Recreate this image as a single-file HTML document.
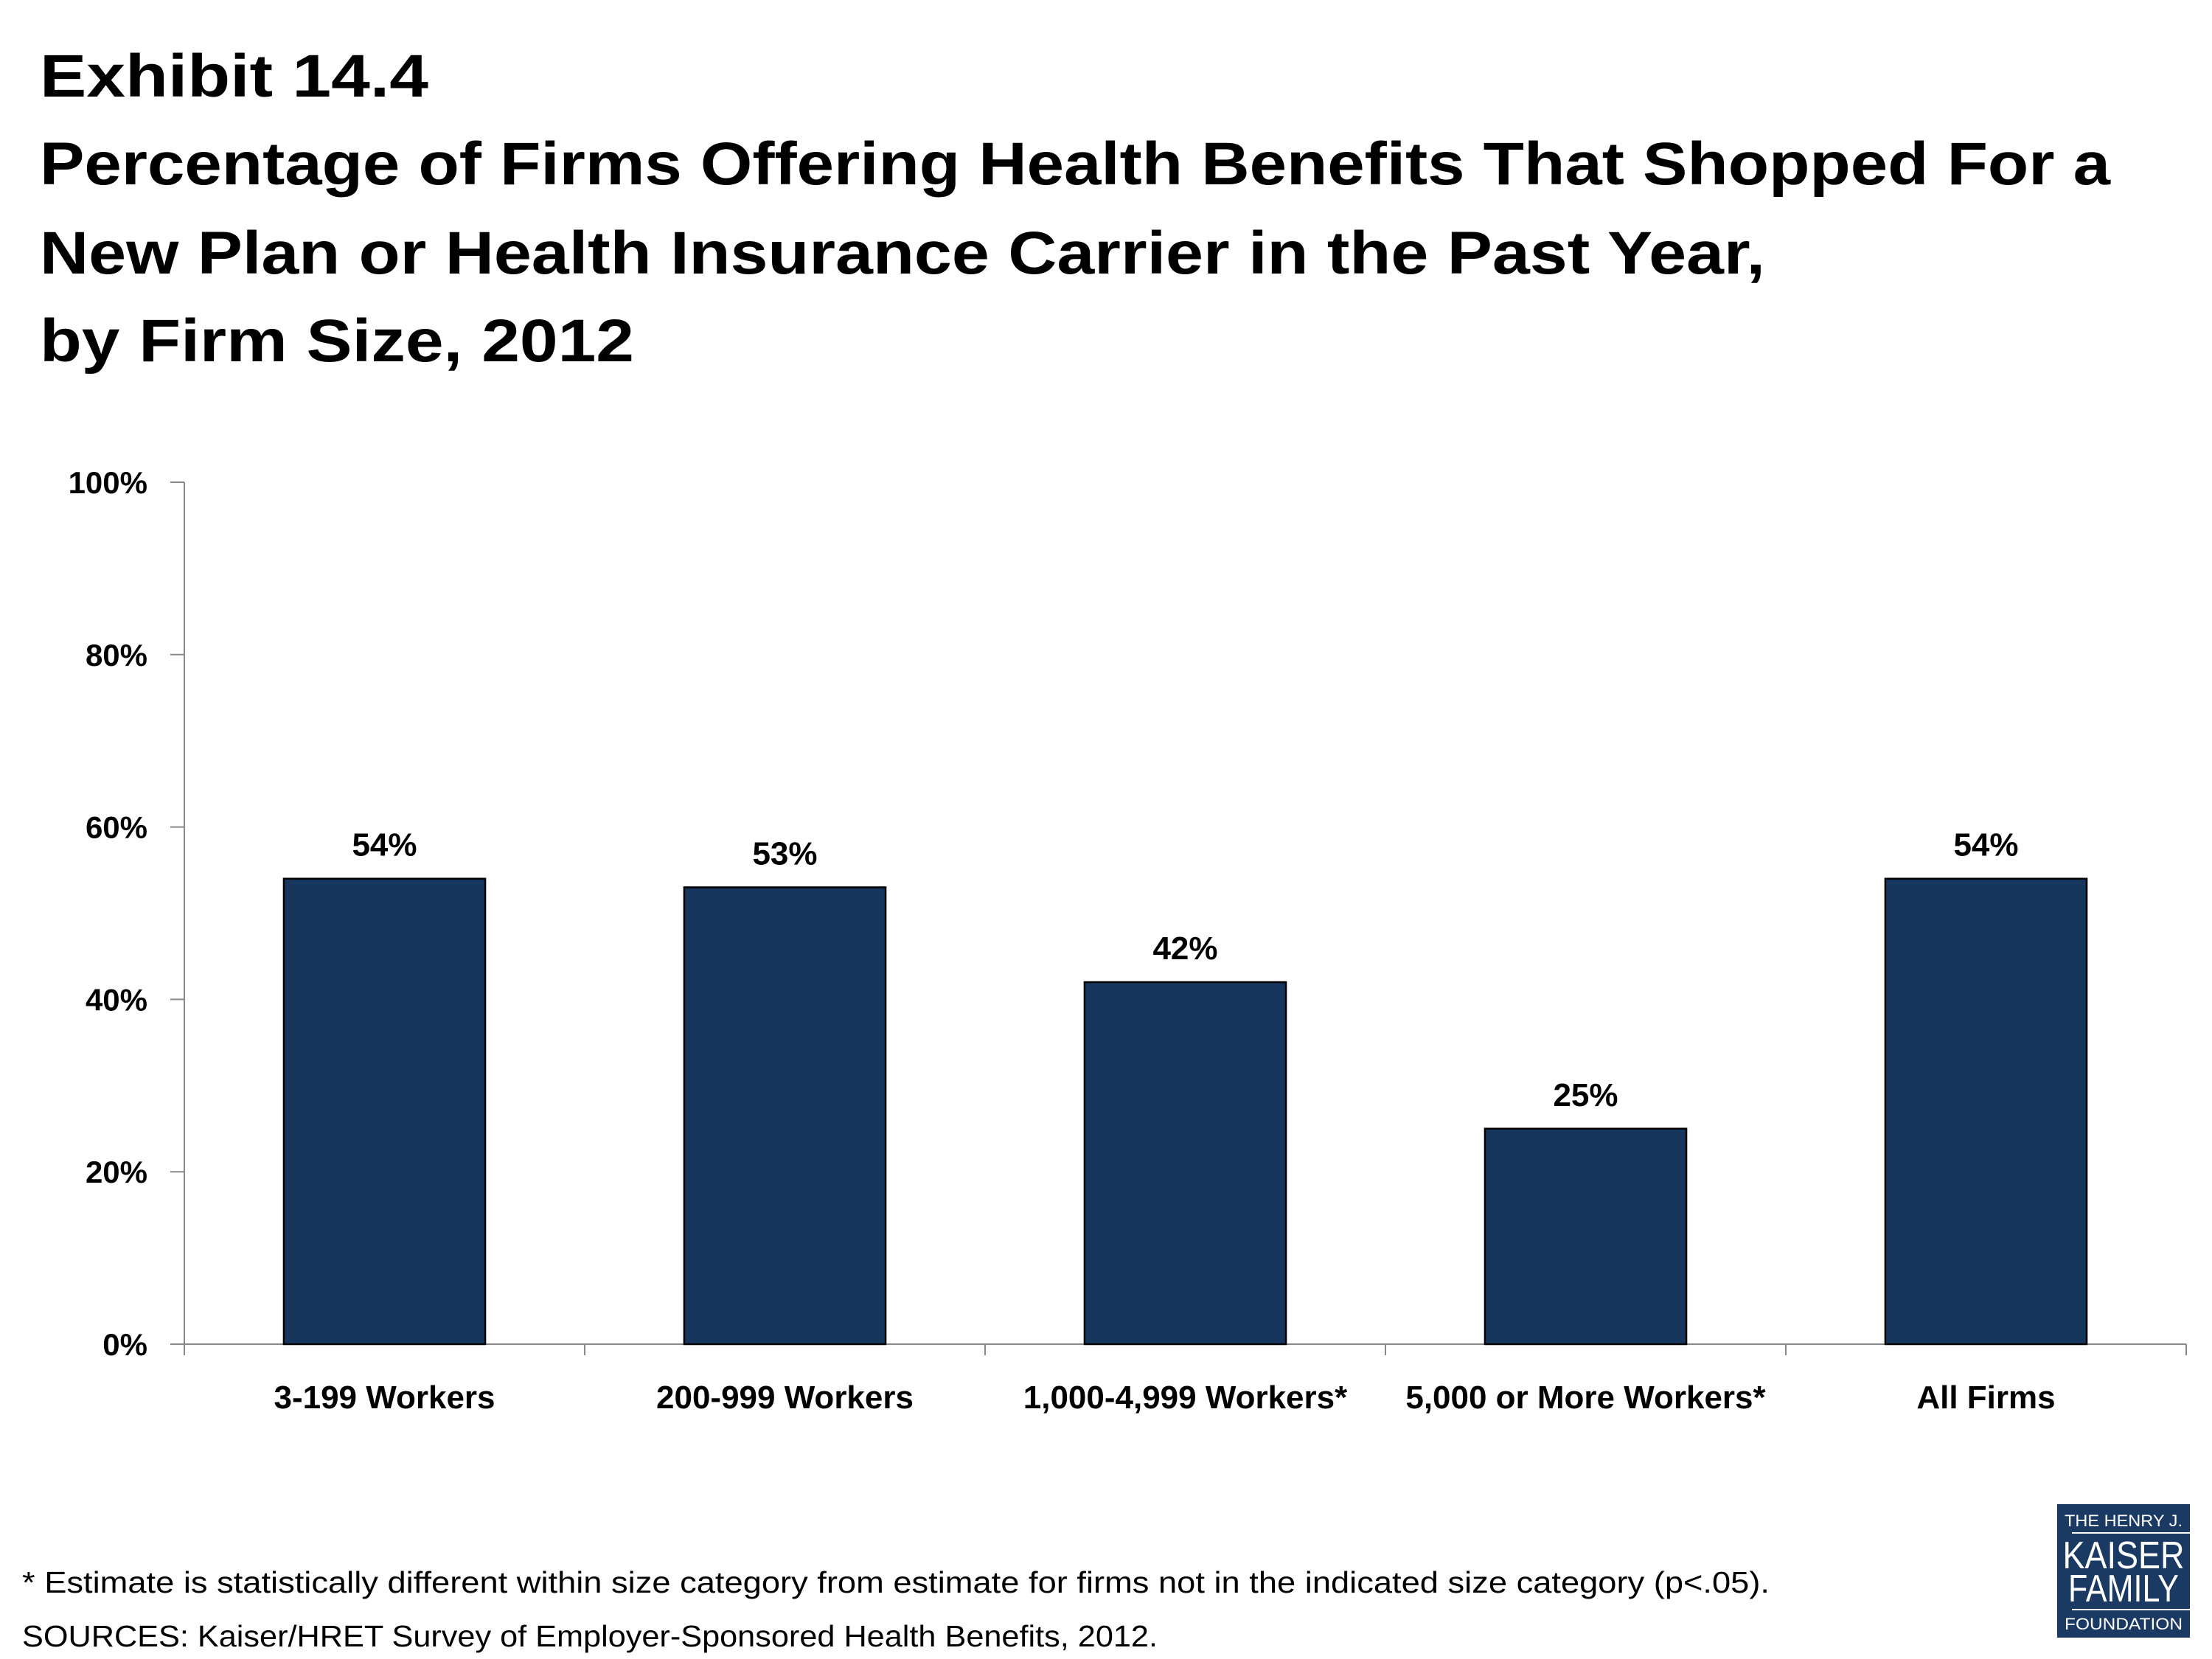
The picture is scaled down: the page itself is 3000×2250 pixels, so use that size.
<!DOCTYPE html>
<html><head><meta charset="utf-8"><style>
html,body{margin:0;padding:0;background:#fff;}
svg{display:block;}
text{font-family:"Liberation Sans",sans-serif;}
</style></head><body>
<svg id="chart" width="3000" height="2250" viewBox="0 0 3000 2250" xmlns="http://www.w3.org/2000/svg">
<g font-weight="bold" font-size="82" fill="#000">
<text x="54" y="131" textLength="527" lengthAdjust="spacingAndGlyphs">Exhibit 14.4</text>
<text x="54" y="250" textLength="2808" lengthAdjust="spacingAndGlyphs">Percentage of Firms Offering Health Benefits That Shopped For a</text>
<text x="54" y="371" textLength="2340" lengthAdjust="spacingAndGlyphs">New Plan or Health Insurance Carrier in the Past Year,</text>
<text x="54" y="490" textLength="806" lengthAdjust="spacingAndGlyphs">by Firm Size, 2012</text>
</g>
<g id="plot"></g>
<g font-size="41" fill="#000">
<text x="30" y="2160" textLength="2370" lengthAdjust="spacingAndGlyphs">* Estimate is statistically different within size category from estimate for firms not in the indicated size category (p&lt;.05).</text>
<text x="30" y="2233" textLength="1540" lengthAdjust="spacingAndGlyphs">SOURCES: Kaiser/HRET Survey of Employer-Sponsored Health Benefits, 2012.</text>
</g>
<g>
<rect x="2790" y="2040" width="180" height="181" fill="#1b3a63"/>
<g fill="#fff" font-family="Liberation Serif,serif" text-anchor="middle">
<text x="2880" y="2070" font-size="22" textLength="160" lengthAdjust="spacingAndGlyphs">THE HENRY J.</text>
<rect x="2810" y="2078" width="160" height="2" fill="#fff"/>
<text x="2880" y="2127" font-size="52" textLength="165" lengthAdjust="spacingAndGlyphs">KAISER</text>
<text x="2880" y="2172" font-size="52" textLength="150" lengthAdjust="spacingAndGlyphs">FAMILY</text>
<rect x="2810" y="2182" width="160" height="2" fill="#fff"/>
<text x="2880" y="2210" font-size="22" textLength="160" lengthAdjust="spacingAndGlyphs">FOUNDATION</text>
</g>
</g>
</svg>
<script>
const categories = ["3-199 Workers","200-999 Workers","1,000-4,999 Workers*","5,000 or More Workers*","All Firms"];
const values = [54,53,42,25,54];
const valueLabels = ["54%","53%","42%","25%","54%"];
const yTicks = [0,20,40,60,80,100];
const yTickLabels = ["0%","20%","40%","60%","80%","100%"];

const NS = "http://www.w3.org/2000/svg";
const plot = document.getElementById('plot');
const x0 = 250, x1 = 2965, yBase = 1823, yTop = 654;
const catW = (x1 - x0) / categories.length;
const yScale = v => yBase - (v / 100) * (yBase - yTop);
const xCenter = i => x0 + catW * (i + 0.5);
function mk(tag, attrs, txt){ const e = document.createElementNS(NS, tag); for (const k in attrs) e.setAttribute(k, attrs[k]); if (txt !== undefined) e.textContent = txt; plot.appendChild(e); return e; }

// y axis
const yAxis = mk('line', {x1:x0, y1:yTop, x2:x0, y2:yBase, stroke:'#888', 'stroke-width':2});


yTicks.forEach((t, i) => {
  const y = yScale(t);
  const tk = mk('line', {x1:x0-19, y1:y, x2:x0, y2:y, stroke:'#888', 'stroke-width':2});
  
  
  const lb = mk('text', {x:200, y:y+15, 'text-anchor':'end', 'font-size':42, 'font-weight':'bold'}, yTickLabels[i]);
  
  
});
// x axis
const xAxis = mk('line', {x1:x0, y1:yBase, x2:x1, y2:yBase, stroke:'#888', 'stroke-width':2});


for (let i = 0; i <= categories.length; i++) {
  const x = x0 + catW * i;
  const tk = mk('line', {x1:x, y1:yBase, x2:x, y2:yBase+15, stroke:'#888', 'stroke-width':2});
  
  
}
// bars
const barW = catW * 0.503;
categories.forEach((c, i) => {
  const cx = xCenter(i), y = yScale(values[i]);
  const b = mk('rect', {x:cx-barW/2, y:y, width:barW, height:yBase-y, fill:'#17365d', stroke:'#000', 'stroke-width':2.5});
  
  
  const vl = mk('text', {x:cx, y:y-31, 'text-anchor':'middle', 'font-size':44, 'font-weight':'bold'}, valueLabels[i]);
  
  
  const cl = mk('text', {x:cx, y:1910, 'text-anchor':'middle', 'font-size':44, 'font-weight':'bold'}, c);
  
  
});
</script>
</body></html>
